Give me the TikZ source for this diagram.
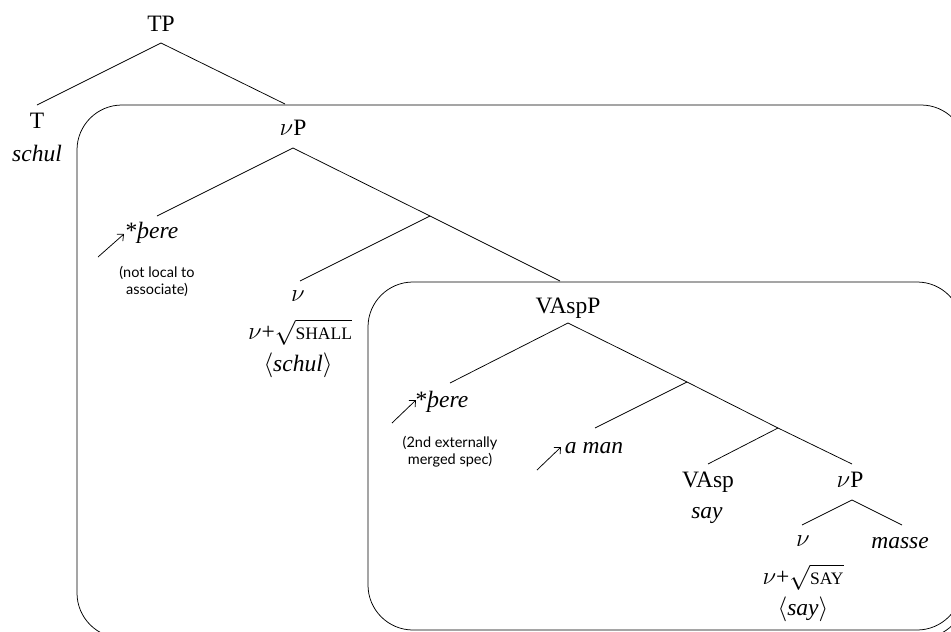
\documentclass[tikz,border=0pt]{standalone}
\usepackage{fontspec}
\usetikzlibrary{arrows.meta}
\setmainfont{Liberation Serif}
\newfontfamily\notefont{Lato}
\newcommand{\myroot}[1]{\ensuremath{\sqrt{\hbox{\fontsize{17.5}{17.5}\selectfont #1}}}}
\newcommand{\nuv}{\ensuremath{\nu}}
\begin{document}
\begin{tikzpicture}[x=1pt,y=-1pt,
  every node/.style={inner sep=0pt, anchor=base, font=\fontsize{23.5}{32}\selectfont},
  br/.style={line width=0.75pt},
  box/.style={line width=0.75pt, rounded corners=45pt},
  note/.style={font=\notefont\fontsize{14.5}{17}\selectfont, align=center, anchor=north},
  mv/.style={line width=0.75pt, -{Straight Barb[length=5pt,width=9pt]}}]
\useasboundingbox (0,0) rectangle (951,632);
\clip (0,0) rectangle (951,632);
% boxes
\draw[box] (77,105) rectangle (966,638);
\draw[box] (368,282) rectangle (962,630);
% labels
\node (TP) at (161,31) {TP};
\node (T) at (37,128) {T};
\node (Tschul) at (37,161) {\textit{schul}};
\node (vP) at (293,135) {\nuv P};
\node (pere1) at (152,238) {*\textit{þere}};
\node[note] (note1) at (157,266) {(not local to\\associate)};
\node (v1) at (298,301) {\nuv};
\node (v1b) at (300,339) {\nuv+\myroot{SHALL}};
\node (v1c) at (298,371) {$\langle$\textit{schul}$\rangle$};
\node (VAspP) at (568,313) {VAspP};
\node (pere2) at (442,407) {*\textit{þere}};
\node[note] (note2) at (450,436) {(2nd externally\\merged spec)};
\node (aman) at (594,453) {\textit{a man}};
\node (VAsp) at (708,487) {VAsp};
\node (say) at (707,518) {\textit{say}};
\node (vP2) at (850,487) {\nuv P};
\node (v2) at (803,546) {\nuv};
\node (masse) at (900,548) {\textit{masse}};
\node (v2b) at (803,584) {\nuv+\myroot{SAY}};
\node (v2c) at (803,615) {$\langle$\textit{say}$\rangle$};
% branch points
\coordinate (TPa) at (161,43);
\coordinate (Tt) at (37,105);
\coordinate (vPt) at (285,104);
\coordinate (vPa) at (293,148);
\coordinate (pere1t) at (157,216);
\coordinate (vbar) at (430,216);
\coordinate (v1t) at (300,281);
\coordinate (VAspPt) at (560,281);
\coordinate (VAspPa) at (568,323);
\coordinate (pere2t) at (450,383);
\coordinate (asp1) at (687,382);
\coordinate (amant) at (595,428);
\coordinate (asp2) at (778,428);
\coordinate (VAspt) at (708,464);
\coordinate (vP2t) at (852,464);
\coordinate (vP2a) at (852,500);
\coordinate (v2t) at (802,525);
\coordinate (masset) at (902,525);
% tree lines
\draw[br] (Tt) -- (TPa) -- (vPt);
\draw[br] (pere1t) -- (vPa) -- (vbar) -- (VAspPt);
\draw[br] (vbar) -- (v1t);
\draw[br] (pere2t) -- (VAspPa) -- (asp1) -- (asp2) -- (vP2t);
\draw[br] (asp1) -- (amant);
\draw[br] (asp2) -- (VAspt);
\draw[br] (v2t) -- (vP2a) -- (masset);
% movement arrows
\coordinate (m1s) at (98,257); \coordinate (m1e) at (124,234);
\coordinate (m2s) at (392,423); \coordinate (m2e) at (416,400);
\coordinate (m3s) at (537,470); \coordinate (m3e) at (561,447);
\draw[mv] (m1s) -- (m1e);
\draw[mv] (m2s) -- (m2e);
\draw[mv] (m3s) -- (m3e);
\end{tikzpicture}
\end{document}
